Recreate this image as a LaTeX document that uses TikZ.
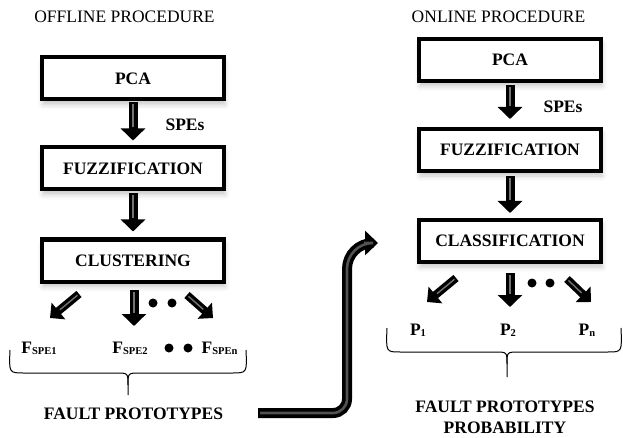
\documentclass[tikz,border=0pt]{standalone}
\usepackage{fontspec}
\setmainfont{Liberation Serif}
\usetikzlibrary{arrows.meta,shadows.blur}

\begin{document}
\begin{tikzpicture}[x=1pt,y=-1pt,
  stage/.style={draw, line width=4pt, minimum width=182pt, minimum height=42pt,
    inner sep=0pt, fill=white, font=\bfseries\fontsize{17.5}{20}\selectfont,
    blur shadow={shadow xshift=1pt, shadow yshift=-5pt, shadow blur radius=5pt, shadow opacity=22}},
  title/.style={inner sep=0pt, font=\fontsize{17.5}{20}\selectfont},
  lbl/.style={inner sep=0pt, font=\bfseries\fontsize{17.5}{20}\selectfont},
  blk/.style={line width=9pt, -{Triangle[width=24pt,length=12pt]}},
  blkin/.style={line width=1.6pt, draw=black!55},
  diag/.style={line width=8pt, -{Triangle[width=21pt,length=11pt]}},
  diagin/.style={line width=1.4pt, draw=black!55},
  bigarr/.style={line width=10pt, -{Triangle[width=24pt,length=13pt]}},
  bigin/.style={line width=2.6pt, draw=black!68},
  brace/.style={line width=1pt},
  dot/.style={circle, fill, inner sep=0pt, minimum size=9pt}
]
\useasboundingbox (0,0) rectangle (623,438);

% ---------- offline procedure ----------
\node[title] (toff) at (124.5,17) {OFFLINE PROCEDURE};
\node[stage] (pca1)  at (133,78.5)  {PCA};
\node[stage] (fuz1)  at (133,168.5) {FUZZIFICATION};
\node[stage] (clu1)  at (133,260.5) {CLUSTERING};
\node[lbl] (spe1) at (185,125) {SPEs};

\draw[blk, shorten <=1pt, shorten >=5pt] (pca1) -- (fuz1);
\draw[blkin, shorten <=3pt, shorten >=18pt] (pca1) -- (fuz1);
\draw[blk, shorten <=2pt, shorten >=6pt] (fuz1) -- (clu1);
\draw[blkin, shorten <=4pt, shorten >=19pt] (fuz1) -- (clu1);

% arrows towards the fault prototypes
\coordinate (o1a) at (79,294);  \coordinate (o1b) at (50,318);
\coordinate (o2a) at (134,290); \coordinate (o2b) at (134,326);
\coordinate (o3a) at (187,295); \coordinate (o3b) at (213,318);
\draw[diag] (o1a) -- (o1b);
\draw[diagin, shorten >=13pt, shorten <=2pt] (o1a) -- (o1b);
\draw[blk] (o2a) -- (o2b);
\draw[blkin, shorten >=13pt, shorten <=2pt] (o2a) -- (o2b);
\draw[diag] (o3a) -- (o3b);
\draw[diagin, shorten >=13pt, shorten <=2pt] (o3a) -- (o3b);
\node[dot] (od1) at (153,303) {};
\node[dot] (od2) at (172,303) {};

\node[lbl] (fs1) at (39,348) {F\raisebox{-1pt}{\fontsize{10.5}{10}\selectfont SPE1}};
\node[lbl] (fs2) at (130,348) {F\raisebox{-1pt}{\fontsize{10.5}{10}\selectfont SPE2}};
\node[lbl] (fsn) at (219.5,348) {F\raisebox{-1pt}{\fontsize{10.5}{10}\selectfont SPEn}};
\node[dot] (od3) at (169,348) {};
\node[dot] (od4) at (188,348) {};

% brace
\draw[brace] (10,350) .. controls (9,373) .. (24,373) -- (116,373)
  .. controls (128,373) .. (128,385) -- (128,395);
\draw[brace] (246,350) .. controls (247,373) .. (232,373) -- (140,373)
  .. controls (128,373) .. (128,385);
\node[lbl] (fp1) at (133.5,414) {FAULT PROTOTYPES};

% ---------- link between the two procedures ----------
\coordinate (ls) at (258,413);
\coordinate (le) at (378,243);
\draw[bigarr] (ls) [rounded corners=14pt] -- (347,413) [rounded corners=26pt] -- (347,243) -- (le);
\draw[bigin, shorten <=2pt, shorten >=14pt] (ls) [rounded corners=14pt] -- (347,413) [rounded corners=26pt] -- (347,243) -- (le);

% ---------- online procedure ----------
\node[title] (ton) at (498.5,17) {ONLINE PROCEDURE};
\node[stage] (pca2) at (510,60)  {PCA};
\node[stage] (fuz2) at (510,150) {FUZZIFICATION};
\node[stage] (cls2) at (510,241) {CLASSIFICATION};
\node[lbl] (spe2) at (563,107) {SPEs};

\draw[blk, shorten <=2pt, shorten >=8pt] (pca2) -- (fuz2);
\draw[blkin, shorten <=4pt, shorten >=21pt] (pca2) -- (fuz2);
\draw[blk, shorten <=3pt, shorten >=5pt] (fuz2) -- (cls2);
\draw[blkin, shorten <=5pt, shorten >=18pt] (fuz2) -- (cls2);

\coordinate (n1a) at (456,278); \coordinate (n1b) at (427,302);
\coordinate (n2a) at (510,273); \coordinate (n2b) at (510,307);
\coordinate (n3a) at (567,279); \coordinate (n3b) at (591,302);
\draw[diag] (n1a) -- (n1b);
\draw[diagin, shorten >=13pt, shorten <=2pt] (n1a) -- (n1b);
\draw[blk] (n2a) -- (n2b);
\draw[blkin, shorten >=13pt, shorten <=2pt] (n2a) -- (n2b);
\draw[diag] (n3a) -- (n3b);
\draw[diagin, shorten >=13pt, shorten <=2pt] (n3a) -- (n3b);
\node[dot] (nd1) at (532,283) {};
\node[dot] (nd2) at (550,283) {};

\node[lbl] (p1) at (418,330) {P\raisebox{-1pt}{\fontsize{10.5}{10}\selectfont 1}};
\node[lbl] (p2) at (508,330) {P\raisebox{-1pt}{\fontsize{10.5}{10}\selectfont 2}};
\node[lbl] (pn) at (587,330) {P\raisebox{-1pt}{\fontsize{10.5}{10}\selectfont n}};

\draw[brace] (387,328) .. controls (386,352) .. (400,352) -- (495,352)
  .. controls (507,352) .. (507,364) -- (507,377);
\draw[brace] (621,328) .. controls (622,352) .. (608,352) -- (519,352)
  .. controls (507,352) .. (507,364);
\node[lbl] (fp2) at (505,407) {FAULT PROTOTYPES};
\node[lbl] (pr2) at (505,428) {PROBABILITY};
\end{tikzpicture}
\end{document}
